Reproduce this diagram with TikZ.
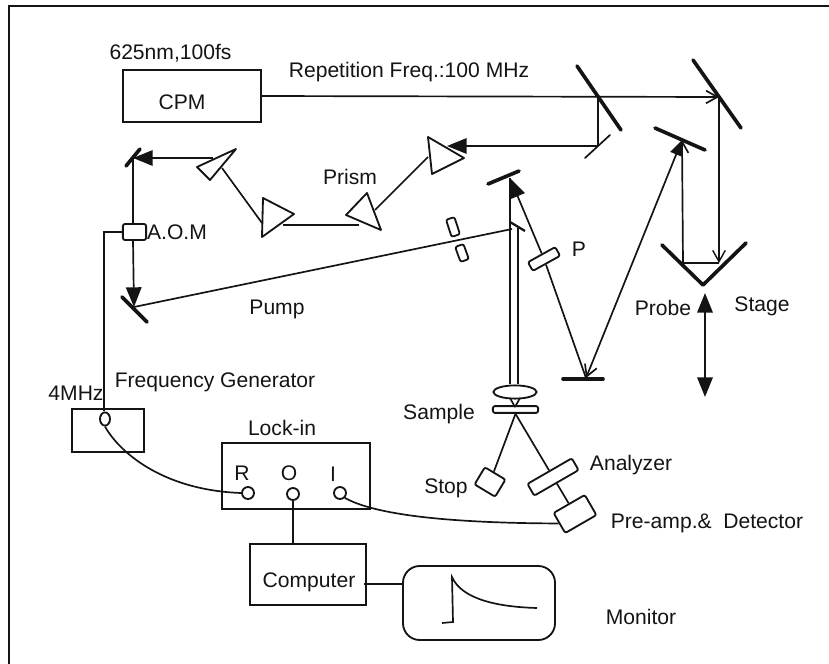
\documentclass[tikz,border=0pt]{standalone}
\usepackage{fontspec}
\setmainfont{Liberation Sans}
\usetikzlibrary{arrows.meta, positioning, shapes.geometric, calc}
\definecolor{inkblack}{RGB}{20,20,20}

\begin{document}
\begin{tikzpicture}[
    x=0.025cm, y=-0.025cm,
    box/.style={rectangle, draw=inkblack, line width=1.3pt, inner sep=0pt},
    tag/.style={inner sep=0pt, font=\fontsize{15pt}{17pt}\selectfont, text=inkblack},
    mirror/.style={draw=inkblack, line width=2.6pt, line cap=round},
    beam/.style={draw=inkblack, line width=1.2pt},
    prism/.style={draw=inkblack, line width=1.3pt, line join=round},
    optic/.style={rectangle, rounded corners=1.5pt, draw=inkblack, line width=1.3pt, inner sep=0pt},
    port/.style={circle, draw=inkblack, line width=1.3pt, fill=white, inner sep=0pt, minimum size=0.3cm},
    solidtip/.style={-{Triangle[length=14pt,width=11pt]}},
    opentip/.style={-{Straight Barb[length=8pt,width=9pt]}}
]
\useasboundingbox (0,0) rectangle (829,664);
\draw[line width=1.3pt, draw=inkblack] (9,664) -- (9,6) -- (829,6);
\node[box, minimum width=3.45cm, minimum height=1.3cm] (cpm) at (192,96) {};
\node[box, minimum width=1.8cm, minimum height=1.08cm] (freqgen) at (108,430.5) {};
\node[box, minimum width=3.7cm, minimum height=1.65cm] (lockin) at (296,476) {};
\node[box, minimum width=2.9cm, minimum height=1.52cm] (computer) at (308,574.5) {};
\node[box, rounded corners=0.42cm, minimum width=3.8cm, minimum height=1.85cm] (monitor) at (479,603) {};
\node[optic, minimum width=0.58cm, minimum height=0.4cm] (aom) at (134.5,232) {};
\node[optic, minimum width=0.78cm, minimum height=0.25cm, rotate=29] (polarizer) at (544,259) {};
\node[optic, minimum width=0.45cm, minimum height=0.22cm, rotate=-72] (chopperA) at (453,227) {};
\node[optic, minimum width=0.4cm, minimum height=0.22cm, rotate=-70] (chopperB) at (462,253) {};
\node[ellipse, draw=inkblack, line width=1.3pt, inner sep=0pt, minimum width=1.08cm, minimum height=0.33cm] (lens) at (515,392) {};
\node[optic, minimum width=1.13cm, minimum height=0.17cm] (sample) at (515.5,409.5) {};
\node[optic, minimum width=0.6cm, minimum height=0.5cm, rotate=-31] (stop) at (490,482) {};
\node[optic, minimum width=1.28cm, minimum height=0.34cm, rotate=30] (analyzer) at (553,477) {};
\node[optic, minimum width=0.9cm, minimum height=0.58cm, rotate=30] (detector) at (575,514) {};
\node[port] (portR) at (248,493) {};
\node[port] (portO) at (293,494) {};
\node[port] (portI) at (340,493) {};
\node[ellipse, draw=inkblack, line width=1.3pt, fill=white, inner sep=0pt, minimum width=0.25cm, minimum height=0.33cm] (portF) at (105,419) {};
\node[tag] (wavelengthlabel) at (170.5,53) {625nm,100fs};
\node[tag] (cpmlabel) at (182,102) {CPM};
\node[tag] (repetitionlabel) at (409,72) {Repetition Freq.:100 MHz};
\node[tag] (prismlabel) at (350,177) {Prism};
\node[tag] (aomlabel) at (177,232) {A.O.M};
\node[tag] (pumplabel) at (277,309) {Pump};
\node[tag] (plabel) at (579,249) {P};
\node[tag] (probelabel) at (663,308) {Probe};
\node[tag] (stagelabel) at (762,306) {Stage};
\node[tag] (fourmhzlabel) at (76,393) {4MHz};
\node[tag] (freqlabel) at (215,382) {Frequency Generator};
\node[tag] (samplelabel) at (439,414) {Sample};
\node[tag] (locklabel) at (282,428) {Lock-in};
\node[tag] (rlabel) at (242,473) {R};
\node[tag] (olabel) at (289,473) {O};
\node[tag] (ilabel) at (333,474) {I};
\node[tag] (stoplabel) at (446,488) {Stop};
\node[tag] (analyzerlabel) at (631,465) {Analyzer};
\node[tag] (detectorlabel) at (707,523) {Pre-amp.\& \ Detector};
\node[tag] (computerlabel) at (309,582) {Computer};
\node[tag] (monitorlabel) at (641,617) {Monitor};
\coordinate (split) at (598,97);
\coordinate (delay) at (719,97);
\coordinate (fold) at (598,146);
\coordinate (stageR) at (719,263);
\coordinate (stageL) at (683,263);
\coordinate (probeturn) at (682,140);
\coordinate (focus) at (586,378);
\coordinate (probetop) at (510,178);
\coordinate (corner) at (133,158);
\coordinate (pumpturn) at (134,307);
\coordinate (pumpend) at (512,229);
\coordinate (wireturn) at (104,232);
\coordinate (cmpout) at (364,584);
\draw[mirror] (577,66) -- (621,130);
\draw[mirror] (693,60) -- (741,128);
\draw[mirror] (655,128) -- (705,150);
\draw[mirror, line join=round] (662,245) -- (703,285) -- (746,243);
\draw[mirror] (488,184) -- (519,171);
\draw[mirror] (563,379) -- (603,379);
\draw[mirror] (126,166) -- (140,149);
\draw[mirror] (122,297) -- (147,322);
\draw[beam, line cap=round] (585,158) -- (610,135);
\draw[beam, line width=1.6pt] (510,222) -- (525,231);
\draw[prism] (236,149) coordinate (prismAtip) -- (197,167) -- (210,180) -- cycle;
\draw[prism] (263,198) -- (294,214) -- (262,237) -- cycle;
\draw[prism] (367,193) -- (346,215) -- (381,230) -- cycle;
\draw[prism] (428,137) -- (464,158) -- (432,174) -- cycle;
\coordinate (prismAout) at (213,158);
\coordinate (prismAin) at (222,168);
\coordinate (prismBin) at (262,223);
\coordinate (prismBout) at (283,225);
\coordinate (prismCin) at (359,225);
\coordinate (prismCout) at (375,210);
\coordinate (prismDin) at (428,157);
\coordinate (prismDout) at (447,146);
\draw[beam, opentip] (cpm.east) -- (delay);
\draw[beam] (split) -- (fold);
\draw[beam, solidtip] (fold) -- (prismDout);
\draw[beam] (prismDin) -- (prismCout);
\draw[beam] (prismCin) -- (prismBout);
\draw[beam] (prismBin) -- (prismAin);
\draw[beam, solidtip] (prismAout) -- (corner);
\draw[beam] (corner) -- (aom.north -| corner);
\draw[beam, solidtip] (aom.south -| corner) -- (pumpturn);
\draw[beam] (pumpturn) -- (pumpend);
\draw[beam, line width=1pt, opentip] (delay) -- (stageR);
\draw[beam, line width=1pt] (stageR) -- (stageL);
\draw[beam, opentip] (stageL) -- (probeturn);
\draw[beam, {Triangle[length=11pt,width=9pt]}-{Straight Barb[length=8pt,width=9pt]}] (probeturn) -- (focus);
\draw[beam] (focus) -- (polarizer);
\draw[beam, solidtip] (polarizer) -- (probetop);
\draw[beam] (probetop) -- (lens.north -| probetop);
\draw[beam] (518,228) coordinate (pumpdown) -- (lens.north -| pumpdown);
\draw[beam] (510,398) -- (515,407);
\draw[beam] (520,398) -- (515,407);
\draw[beam] (sample.south) -- (stop);
\draw[beam] (sample.south) -- (analyzer);
\draw[beam] (analyzer) -- (detector);
\draw[line width=1.4pt, draw=inkblack, {Triangle[length=14pt,width=11pt]}-{Triangle[length=14pt,width=11pt]}] (705,293) coordinate (stagetop) -- (705,397) coordinate (stagebottom);
\draw[beam] (aom.west) -- (wireturn) -- (portF.north -| wireturn);
\draw[beam] (portF.south) .. controls (118,450) and (160,490) .. (portR.west);
\draw[beam] (portI.south east) .. controls (370,512) and (430,523) .. (detector.west);
\draw[beam] (portO.south) -- (computer.north -| portO);
\draw[beam] (cmpout) -- (monitor.west |- cmpout);
\draw[beam] (442,623) -- (453,622) -- (452,577) .. controls (462,600) and (500,607) .. (537,608);
\end{tikzpicture}
\end{document}
